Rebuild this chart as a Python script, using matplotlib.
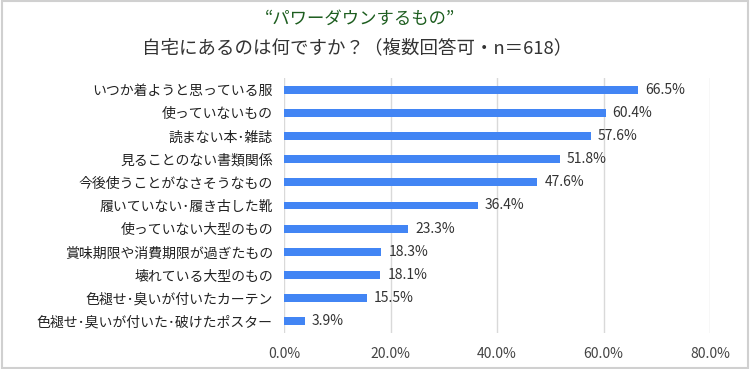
import matplotlib
matplotlib.use('Agg')
import matplotlib.pyplot as plt
from matplotlib.patches import Rectangle

plt.rcParams['font.family'] = ['Noto Sans CJK JP', 'DejaVu Sans']

categories = [
    'いつか着ようと思っている服',
    '使っていないもの',
    '読まない本･雑誌',
    '見ることのない書類関係',
    '今後使うことがなさそうなもの',
    '履いていない･履き古した靴',
    '使っていない大型のもの',
    '賞味期限や消費期限が過ぎたもの',
    '壊れている大型のもの',
    '色褪せ･臭いが付いたカーテン',
    '色褪せ･臭いが付いた･破けたポスター',
]
values = [66.5, 60.4, 57.6, 51.8, 47.6, 36.4, 23.3, 18.3, 18.1, 15.5, 3.9]
xticks = [0, 20, 40, 60, 80]

fig = plt.figure(figsize=(7.5, 3.69), dpi=100)
ax = fig.add_axes([0.3787, 0.0976, 0.568, 0.691])

y = list(range(len(categories)))
ax.barh(y, values, height=0.34, color='#4285F4', zorder=3)
for yi, v in zip(y, values):
    ax.text(v + 1.3, yi, f'{v:.1f}%', va='center', ha='left', fontsize=10, color='#333333')

ax.set_yticks(y)
ax.set_yticklabels(categories, fontsize=10, color='#222222')
ax.set_ylim(len(categories) - 0.5, -0.5)
ax.set_xlim(0, 80)
ax.set_xticks(xticks)
ax.set_xticklabels([f'{t:.1f}%' for t in xticks], fontsize=10, color='#444444')
ax.tick_params(axis='both', length=0, pad=8)
ax.tick_params(axis='x', pad=10)
ax.grid(axis='x', color='#d9d9d9', linewidth=1, zorder=0)
for s in ax.spines.values():
    s.set_visible(False)

fig.text(0.48, 0.948, '“パワーダウンするもの”', ha='center', va='center', fontsize=12.5, color='#1e5e20')
fig.text(0.476, 0.87, '自宅にあるのは何ですか？（複数回答可・n＝618）', ha='center', va='center', fontsize=13.3, color='#333333')

fig.patches.append(Rectangle((0.002, 0.003), 0.995, 0.993, transform=fig.transFigure,
                             fill=False, edgecolor='#d0d0d0', linewidth=1.5))

fig.savefig('out.png', dpi=100)
